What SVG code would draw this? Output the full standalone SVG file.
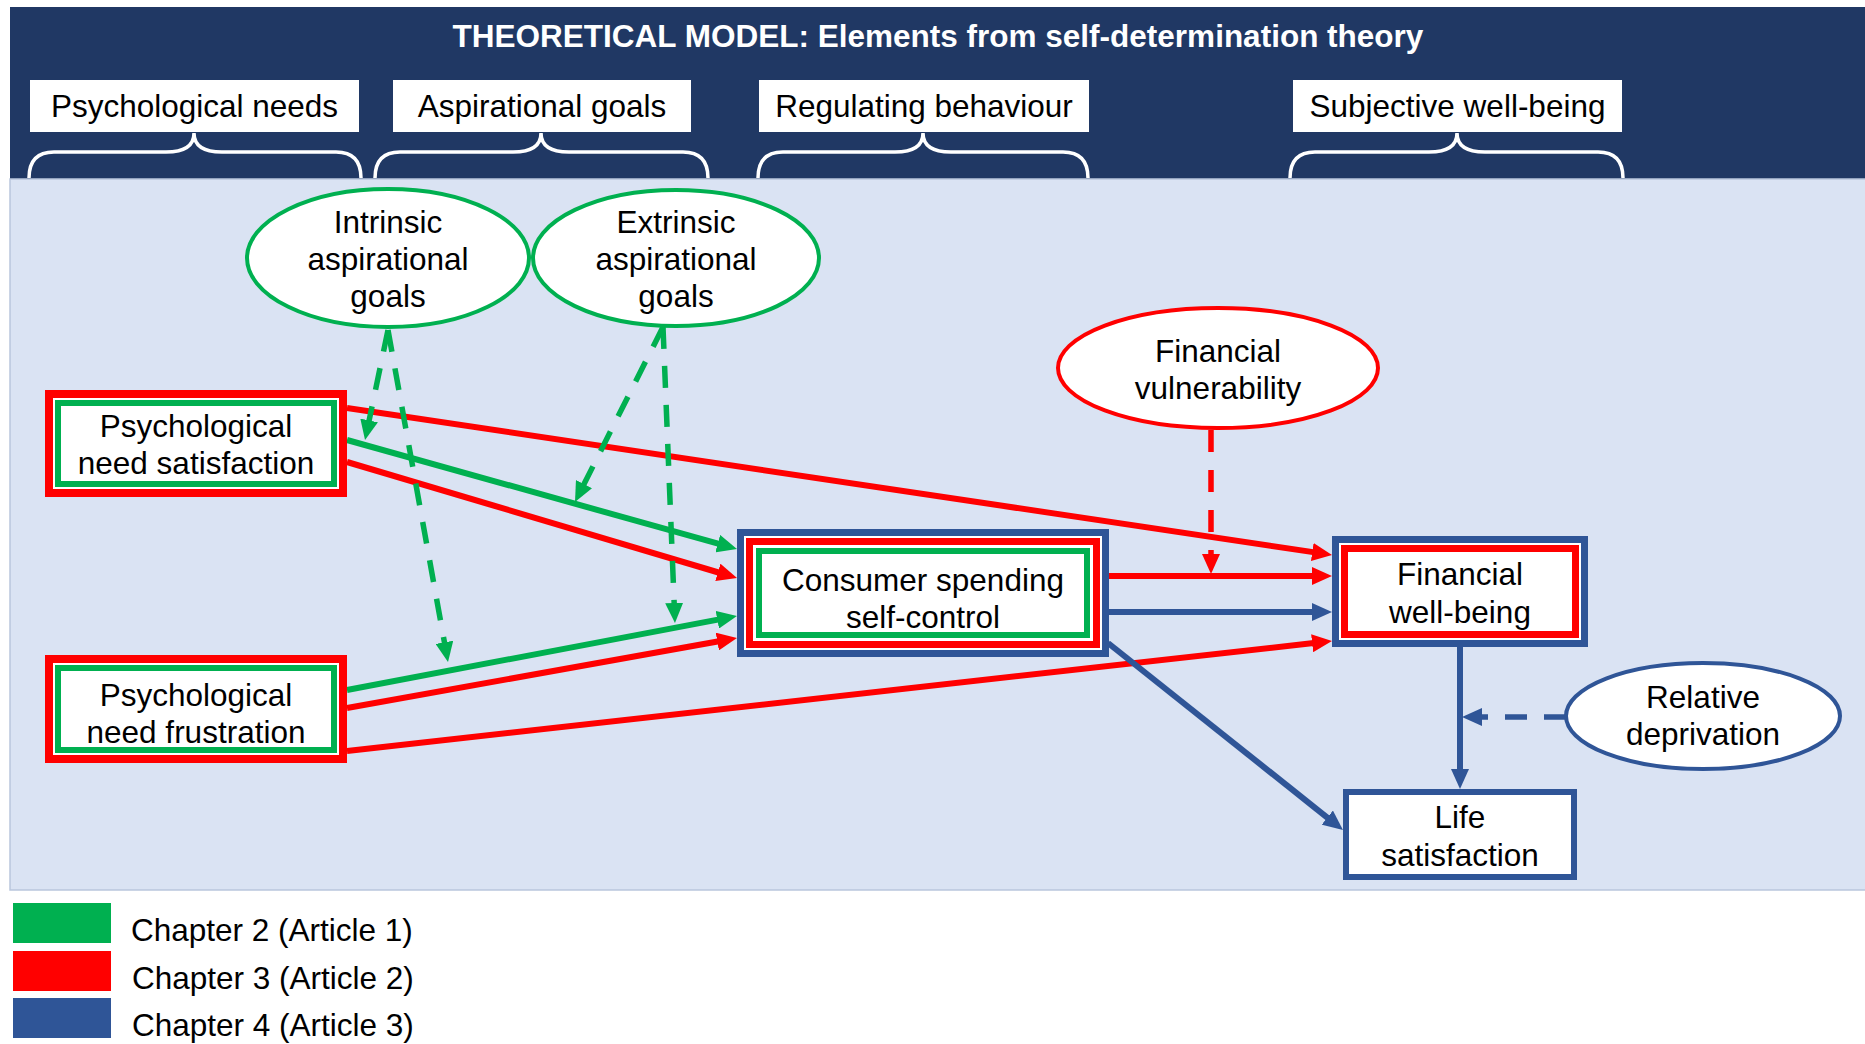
<svg xmlns="http://www.w3.org/2000/svg" width="1865" height="1044" viewBox="0 0 1865 1044">
<defs>
<style>
.t{font-family:"Liberation Sans",Arial,sans-serif;font-size:31.5px;fill:#000;text-anchor:middle}
.lg{font-family:"Liberation Sans",Arial,sans-serif;font-size:31.5px;fill:#000}
.title{font-family:"Liberation Sans",Arial,sans-serif;font-size:31.5px;font-weight:bold;fill:#fff;text-anchor:middle}
.brace{fill:none;stroke:#fff;stroke-width:3.5}
.hbox{fill:#fff}
.r{fill:none;stroke:#FF0000;stroke-width:6}
.g{fill:none;stroke:#00B050;stroke-width:6}
.b{fill:none;stroke:#2F5597;stroke-width:6}
.dg{fill:none;stroke:#00B050;stroke-width:5.5;stroke-dasharray:22 17}
.dr{fill:none;stroke:#FF0000;stroke-width:5.5;stroke-dasharray:22 18}
.db{fill:none;stroke:#2F5597;stroke-width:5.5;stroke-dasharray:22 17}
</style>
<marker id="aR" markerUnits="userSpaceOnUse" markerWidth="20" markerHeight="18" refX="6" refY="9" orient="auto"><path d="M0,0 L20,9 L0,18 z" fill="#FF0000"/></marker>
<marker id="aG" markerUnits="userSpaceOnUse" markerWidth="20" markerHeight="18" refX="6" refY="9" orient="auto"><path d="M0,0 L20,9 L0,18 z" fill="#00B050"/></marker>
<marker id="aB" markerUnits="userSpaceOnUse" markerWidth="20" markerHeight="18" refX="6" refY="9" orient="auto"><path d="M0,0 L20,9 L0,18 z" fill="#2F5597"/></marker>
</defs>
<rect x="0" y="0" width="1865" height="1044" fill="#fff"/>
<g id="header">
<rect x="10" y="7" width="1855" height="172" fill="#203864"/>
<text class="title" x="938" y="47">THEORETICAL MODEL: Elements from self-determination theory</text>
</g>
<g id="cat-psych">
<rect class="hbox" x="30" y="80" width="329" height="52"/>
<text class="t" x="194.5" y="117">Psychological needs</text>
<path class="brace" d="M29,178 Q29,152 54,152 L166,152 Q194,152 194,133 Q194,152 222,152 L336,152 Q361,152 361,178"/>
</g>
<g id="cat-asp">
<rect class="hbox" x="393" y="80" width="298" height="52"/>
<text class="t" x="542" y="117">Aspirational goals</text>
<path class="brace" d="M375,178 Q375,152 400,152 L513,152 Q541,152 541,133 Q541,152 569,152 L683,152 Q708,152 708,178"/>
</g>
<g id="cat-reg">
<rect class="hbox" x="759" y="80" width="330" height="52"/>
<text class="t" x="924" y="117">Regulating behaviour</text>
<path class="brace" d="M758,178 Q758,152 783,152 L895,152 Q923,152 923,133 Q923,152 951,152 L1063,152 Q1088,152 1088,178"/>
</g>
<g id="cat-swb">
<rect class="hbox" x="1293" y="80" width="329" height="52"/>
<text class="t" x="1457.5" y="117">Subjective well-being</text>
<path class="brace" d="M1290,178 Q1290,152 1315,152 L1429,152 Q1457,152 1457,133 Q1457,152 1485,152 L1598,152 Q1623,152 1623,178"/>
</g>
<rect id="canvas" x="10" y="179" width="1856" height="711" fill="#DAE3F3" stroke="#B9C6DD" stroke-width="1.5"/>
<g id="connectors">
<line class="r" x1="347" y1="408" x2="1318.2" y2="552.9" marker-end="url(#aR)"/>
<line class="r" x1="347" y1="462" x2="723.6" y2="574" marker-end="url(#aR)"/>
<line class="r" x1="347" y1="708" x2="723.2" y2="640.5" marker-end="url(#aR)"/>
<line class="r" x1="347" y1="751" x2="1318.1" y2="642.6" marker-end="url(#aR)"/>
<line class="r" x1="1109" y1="576" x2="1318" y2="576" marker-end="url(#aR)"/>
<line class="g" x1="347" y1="440" x2="723.5" y2="545.2" marker-end="url(#aG)"/>
<line class="g" x1="347" y1="690" x2="723.2" y2="618.6" marker-end="url(#aG)"/>
<line class="b" x1="1109" y1="612" x2="1318" y2="612" marker-end="url(#aB)"/>
<line class="b" x1="1108" y1="643" x2="1332" y2="821.3" marker-end="url(#aB)"/>
<line class="b" x1="1460" y1="647" x2="1460" y2="775" marker-end="url(#aB)"/>
<line class="db" x1="1566" y1="717" x2="1476" y2="717" marker-end="url(#aB)"/>
<line class="dr" x1="1211" y1="430" x2="1211" y2="560" marker-end="url(#aR)"/>
<line class="dg" x1="388" y1="330" x2="367.9" y2="426.3" marker-end="url(#aG)"/>
<line class="dg" x1="388" y1="330" x2="445.5" y2="648.2" marker-end="url(#aG)"/>
<line class="dg" x1="663" y1="327" x2="581.3" y2="489.5" marker-end="url(#aG)"/>
<line class="dg" x1="663" y1="327" x2="674.4" y2="609" marker-end="url(#aG)"/>
</g>
<g id="intrinsic">
<ellipse cx="388" cy="258" rx="141" ry="69" fill="#fff" stroke="#00B050" stroke-width="4"/>
<text class="t" x="388" y="233">Intrinsic</text>
<text class="t" x="388" y="270">aspirational</text>
<text class="t" x="388" y="307">goals</text>
</g>
<g id="extrinsic">
<ellipse cx="676" cy="258" rx="143" ry="68" fill="#fff" stroke="#00B050" stroke-width="4"/>
<text class="t" x="676" y="233">Extrinsic</text>
<text class="t" x="676" y="270">aspirational</text>
<text class="t" x="676" y="307">goals</text>
</g>
<g id="fin-vuln">
<ellipse cx="1218" cy="368" rx="160" ry="60" fill="#fff" stroke="#FF0000" stroke-width="4"/>
<text class="t" x="1218" y="362">Financial</text>
<text class="t" x="1218" y="399">vulnerability</text>
</g>
<g id="rel-dep">
<ellipse cx="1703" cy="716" rx="137" ry="53" fill="#fff" stroke="#2F5597" stroke-width="4"/>
<text class="t" x="1703" y="708">Relative</text>
<text class="t" x="1703" y="745">deprivation</text>
</g>
<g id="pns">
<rect x="45" y="390" width="302" height="107" fill="#fff"/>
<rect x="49" y="394" width="294" height="99" fill="none" stroke="#FF0000" stroke-width="8"/>
<rect x="58" y="403" width="276" height="81" fill="none" stroke="#00B050" stroke-width="6"/>
<text class="t" x="196" y="437">Psychological</text>
<text class="t" x="196" y="474">need satisfaction</text>
</g>
<g id="pnf">
<rect x="45" y="655" width="302" height="108" fill="#fff"/>
<rect x="49" y="659" width="294" height="100" fill="none" stroke="#FF0000" stroke-width="8"/>
<rect x="58" y="668" width="276" height="82" fill="none" stroke="#00B050" stroke-width="6"/>
<text class="t" x="196" y="706">Psychological</text>
<text class="t" x="196" y="743">need frustration</text>
</g>
<g id="consumer">
<rect x="737" y="529" width="372" height="128" fill="#fff"/>
<rect x="740.5" y="532.5" width="365" height="121" fill="none" stroke="#2F5597" stroke-width="7"/>
<rect x="749.5" y="541.5" width="347" height="103" fill="none" stroke="#FF0000" stroke-width="7"/>
<rect x="759" y="551" width="328" height="84" fill="none" stroke="#00B050" stroke-width="6"/>
<text class="t" x="923" y="591">Consumer spending</text>
<text class="t" x="923" y="628">self-control</text>
</g>
<g id="fwb">
<rect x="1332" y="536" width="256" height="111" fill="#fff"/>
<rect x="1335.5" y="539.5" width="249" height="104" fill="none" stroke="#2F5597" stroke-width="7"/>
<rect x="1344.5" y="548.5" width="231" height="86" fill="none" stroke="#FF0000" stroke-width="7"/>
<text class="t" x="1460" y="585">Financial</text>
<text class="t" x="1460" y="623">well-being</text>
</g>
<g id="life">
<rect x="1346" y="792" width="228" height="85" fill="#fff" stroke="#2F5597" stroke-width="6"/>
<text class="t" x="1460" y="828">Life</text>
<text class="t" x="1460" y="866">satisfaction</text>
</g>
<g id="legend">
<rect x="13" y="903" width="98" height="40" fill="#00B050"/>
<rect x="13" y="951" width="98" height="40" fill="#FF0000"/>
<rect x="13" y="998" width="98" height="40" fill="#2F5597"/>
<text class="lg" x="131" y="941">Chapter 2 (Article 1)</text>
<text class="lg" x="132" y="989">Chapter 3 (Article 2)</text>
<text class="lg" x="132" y="1036">Chapter 4 (Article 3)</text>
</g>
</svg>
